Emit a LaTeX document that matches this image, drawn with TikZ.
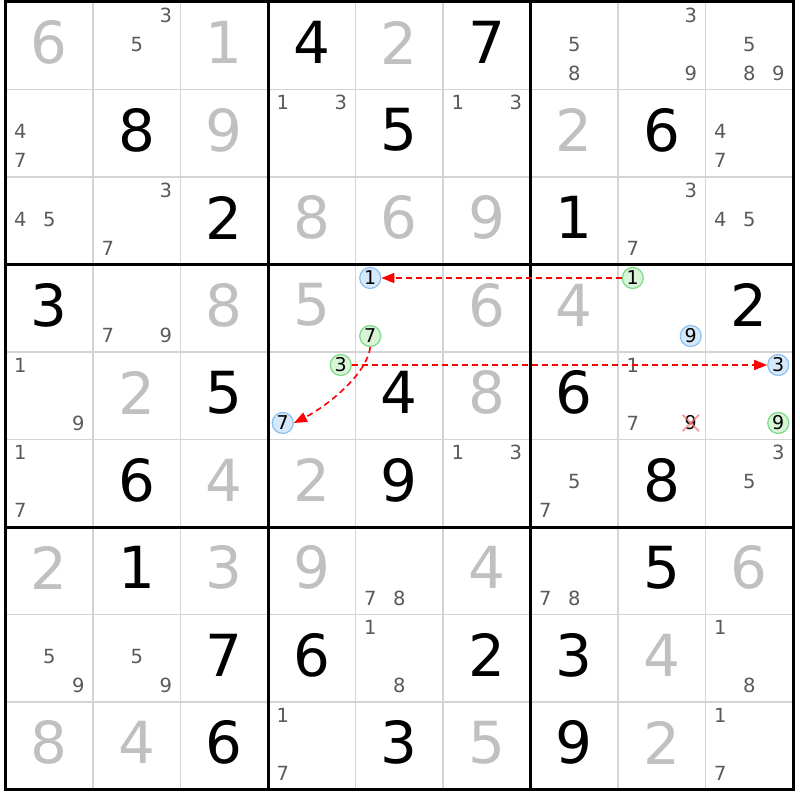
\documentclass[tikz,border=0pt]{standalone}
\usepackage{fontspec}
\setmainfont{DejaVu Sans}
\usetikzlibrary{arrows.meta}
\definecolor{giv}{HTML}{C0C0C0}
\definecolor{cand}{HTML}{5A5A5A}
\definecolor{gridgray}{HTML}{D4D4D4}
\definecolor{bfill}{HTML}{D6E9FB}
\definecolor{bline}{HTML}{8CC0F0}
\definecolor{gfill}{HTML}{D8F5D8}
\definecolor{gline}{HTML}{7DD88A}
\definecolor{lnk}{HTML}{FF0000}
\definecolor{xred}{HTML}{F07878}
\begin{document}
\begin{tikzpicture}[x=1pt,y=-1pt,
  bigdig/.style={font=\fontsize{58}{58}\selectfont, inner sep=0pt},
  candig/.style={font=\fontsize{19.5}{19.5}\selectfont, inner sep=0pt, text=cand},
  bcirc/.style={circle, draw=bline, fill=bfill, line width=1.2pt, inner sep=0pt, minimum size=21pt,
    font=\fontsize{19}{19}\selectfont, text=black},
  gcirc/.style={circle, draw=gline, fill=gfill, line width=1.2pt, inner sep=0pt, minimum size=21pt,
    font=\fontsize{19}{19}\selectfont, text=black},
  xdig/.style={inner sep=0pt, minimum width=16pt, minimum height=16pt,
    font=\fontsize{19}{19}\selectfont, text=black},
  thinline/.style={draw=gridgray, line width=1.5pt},
  thickline/.style={draw=black, line width=3pt},
  linkarrow/.style={draw=lnk, line width=1.6pt, dash pattern=on 6pt off 4pt,
    -{Triangle[length=13pt,width=10pt,fill=lnk]}},
  xmark/.style={draw=xred, line width=2pt, opacity=0.7}
]
\useasboundingbox (0,0) rectangle (800,800);
\fill[white] (0,0) rectangle (800,800);
% grid
\foreach \i in {1,2,4,5,7,8} {
  \draw[thinline] ({5.5+\i*87.5},2) -- ({5.5+\i*87.5},789.5);
  \draw[thinline] (5.5,{2+\i*87.5}) -- (793,{2+\i*87.5});
}
\foreach \i in {0,3,6,9} {
  \draw[thickline] ({5.5+\i*87.5},0.5) -- ({5.5+\i*87.5},791);
  \draw[thickline] (4,{2+\i*87.5}) -- (794.5,{2+\i*87.5});
}
% big digits
\foreach \r/\c/\d/\col in {
 0/0/6/giv, 0/2/1/giv, 0/3/4/black, 0/4/2/giv, 0/5/7/black,
 1/1/8/black, 1/2/9/giv, 1/4/5/black, 1/6/2/giv, 1/7/6/black,
 2/2/2/black, 2/3/8/giv, 2/4/6/giv, 2/5/9/giv, 2/6/1/black,
 3/0/3/black, 3/2/8/giv, 3/3/5/giv, 3/5/6/giv, 3/6/4/giv, 3/8/2/black,
 4/1/2/giv, 4/2/5/black, 4/4/4/black, 4/5/8/giv, 4/6/6/black,
 5/1/6/black, 5/2/4/giv, 5/3/2/giv, 5/4/9/black, 5/7/8/black,
 6/0/2/giv, 6/1/1/black, 6/2/3/giv, 6/3/9/giv, 6/5/4/giv, 6/7/5/black, 6/8/6/giv,
 7/2/7/black, 7/3/6/black, 7/5/2/black, 7/6/3/black, 7/7/4/giv,
 8/0/8/giv, 8/1/4/giv, 8/2/6/black, 8/4/3/black, 8/5/5/giv, 8/6/9/black, 8/7/2/giv} {
  \node[bigdig, text=\col] (v\r\c) at ({5.5+(\c+0.5)*87.5},{2+(\r+0.5)*87.5-3}) {\d};
}
% candidates
\foreach \r/\c/\d in {
 0/1/3, 0/1/5, 0/6/5, 0/6/8, 0/7/3, 0/7/9, 0/8/5, 0/8/8, 0/8/9,
 1/0/4, 1/0/7, 1/3/1, 1/3/3, 1/5/1, 1/5/3, 1/8/4, 1/8/7,
 2/0/4, 2/0/5, 2/1/3, 2/1/7, 2/7/3, 2/7/7, 2/8/4, 2/8/5,
 3/1/7, 3/1/9,
 4/0/1, 4/0/9, 4/7/1, 4/7/7,
 5/0/1, 5/0/7, 5/5/1, 5/5/3, 5/6/5, 5/6/7, 5/8/3, 5/8/5,
 6/4/7, 6/4/8, 6/6/7, 6/6/8,
 7/0/5, 7/0/9, 7/1/5, 7/1/9, 7/4/1, 7/4/8, 7/8/1, 7/8/8,
 8/3/1, 8/3/7, 8/8/1, 8/8/7} {
  \pgfmathtruncatemacro\sx{mod(\d-1,3)-1}
  \pgfmathtruncatemacro\sy{floor((\d-1)/3)-1}
  \node[candig] (k\r\c\d) at ({5.5+(\c+0.5)*87.5+\sx*29},{2+(\r+0.5)*87.5+\sy*29-1.5}) {\d};
}
% highlighted candidates
\foreach \r/\c/\d/\sty/\nm in {
 3/4/1/bcirc/b1, 3/4/7/gcirc/g7, 3/7/1/gcirc/g1, 3/7/9/bcirc/b9,
 4/3/3/gcirc/g3, 4/3/7/bcirc/b7, 4/8/3/bcirc/b3, 4/8/9/gcirc/g9, 4/7/9/xdig/x9} {
  \pgfmathtruncatemacro\sx{mod(\d-1,3)-1}
  \pgfmathtruncatemacro\sy{floor((\d-1)/3)-1}
  \pgfmathsetmacro\py{round(2+(\r+0.5)*87.5+\sy*29-1.5)}
  \node[\sty] (\nm) at ({5.5+(\c+0.5)*87.5+\sx*29},\py) {\d};
}
% eliminated candidate
\draw[xmark] (x9.north west) -- (x9.south east);
\draw[xmark] (x9.north east) -- (x9.south west);
% links
\draw[linkarrow] (g1) -- (b1);
\draw[linkarrow] (g3) -- (b3);
\draw[linkarrow] (g7.south) .. controls +(-4,30) and +(28,-14) .. (b7.east);
\end{tikzpicture}
\end{document}
